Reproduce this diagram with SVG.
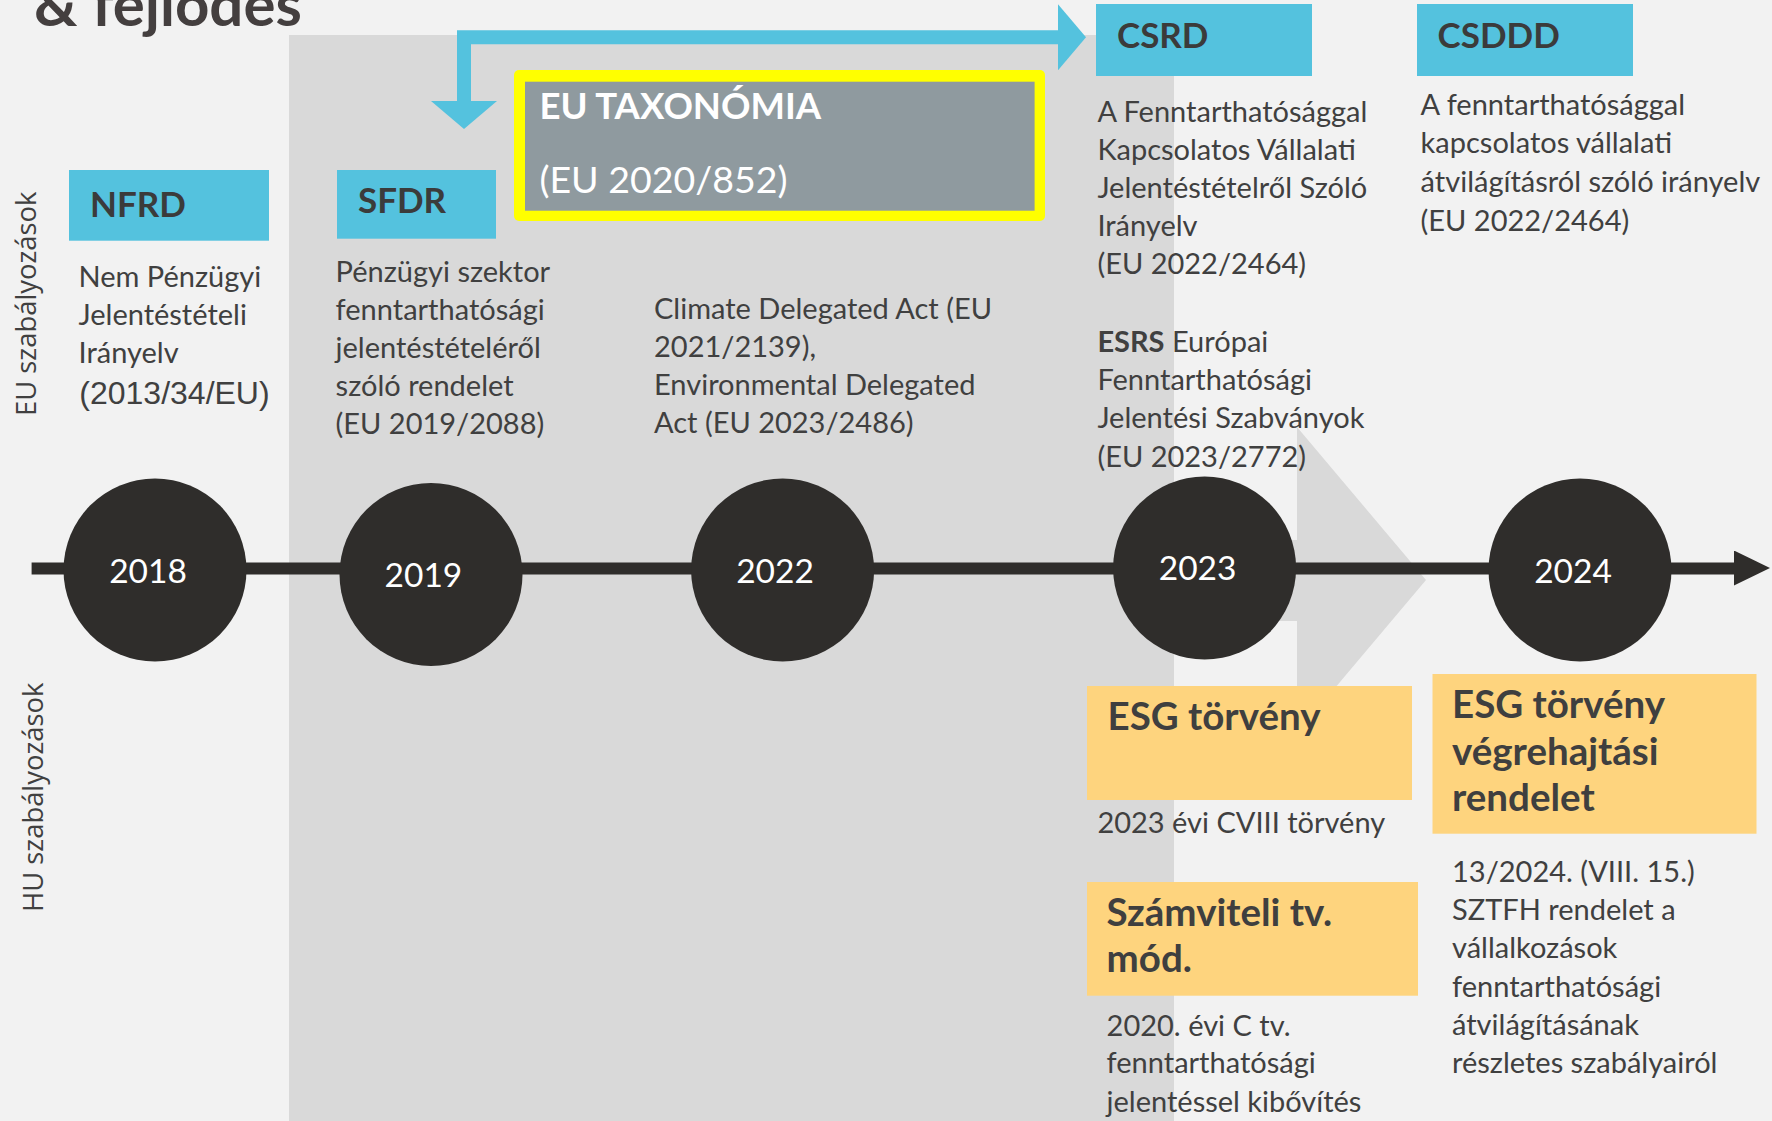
<svg xmlns="http://www.w3.org/2000/svg" width="1772" height="1121" viewBox="0 0 1772 1121">
<defs>
<style>
.t{font-family:Lato,"Liberation Sans",sans-serif;fill:#404040}
.body{font-size:29px}
.bt{font-size:35px;font-weight:bold;fill:#3b3b3b}
.yt{font-size:38.5px;font-weight:bold;fill:#3f3f3f}
.yr{font-size:33.5px;fill:#ffffff;text-anchor:middle}
.side{font-family:"Open Sans","Noto Sans",sans-serif;font-size:27.4px;fill:#404040}
.blue{fill:#54c2de}
.yel{fill:#fed47e}
.circ{fill:#2f2d2b}
</style>
<marker id="bh" markerUnits="userSpaceOnUse" markerWidth="30" markerHeight="66" refX="0" refY="33" orient="auto-start-reverse" viewBox="0 0 30 66">
<path d="M0,0 L28,33 L0,66 Z" fill="#54c2de"/>
</marker>
<marker id="th" markerUnits="userSpaceOnUse" markerWidth="38" markerHeight="36" refX="0" refY="18" orient="auto" viewBox="0 0 38 36">
<path d="M0,0 L36,17.5 L0,35 Z" fill="#2f2d2b"/>
</marker>
</defs>
<rect x="0" y="0" width="1772" height="1121" fill="#f2f2f2"/>
<text x="34" y="26" font-family="Lato,'Liberation Sans',sans-serif" font-size="60" font-weight="bold" fill="#443f3f">&amp; fejlődés</text>
<rect x="289" y="35" width="885" height="1086" fill="#d9d9d9"/>
<polygon points="1174,540 1297,540 1297,427 1426,580 1297,733 1297,621 1174,621" fill="#d9d9d9"/>
<text class="side" transform="translate(36.4,416) rotate(-90)">EU szabályozások</text>
<text class="side" transform="translate(42.9,912) rotate(-90)">HU szabályozások</text>
<g id="connectors">
<line x1="31.6" y1="568.5" x2="1734" y2="568.5" stroke="#2f2d2b" stroke-width="12" marker-end="url(#th)"/>
<path d="M464,101 V37.3 H1058" fill="none" stroke="#54c2de" stroke-width="14" marker-start="url(#bh)" marker-end="url(#bh)"/>
</g>
<g id="y2018"><circle class="circ" cx="155" cy="570" r="91.5"/><text class="t yr" x="148" y="582.7">2018</text></g>
<g id="y2019"><circle class="circ" cx="431" cy="574.5" r="91.5"/><text class="t yr" x="423.4" y="586.7">2019</text></g>
<g id="y2022"><circle class="circ" cx="782.6" cy="570" r="91.5"/><text class="t yr" x="775" y="583">2022</text></g>
<g id="y2023"><circle class="circ" cx="1204.6" cy="568" r="91.5"/><text class="t yr" x="1197.6" y="580">2023</text></g>
<g id="y2024"><circle class="circ" cx="1580" cy="570" r="91.5"/><text class="t yr" x="1573" y="583">2024</text></g>
<g id="nfrd">
<rect class="blue" x="69" y="170" width="200" height="70.7"/>
<text class="t bt" x="90" y="216.7">NFRD</text>
<text class="t body" x="78.5" y="287">Nem Pénzügyi</text>
<text class="t body" x="78.5" y="325">Jelentéstételi</text>
<text class="t body" x="78.5" y="363">Irányelv</text>
<text x="79.3" y="404.3" font-family="'Liberation Sans',Arial,sans-serif" font-size="32" fill="#404040">(2013/34/EU)</text>
</g>
<g id="sfdr">
<rect class="blue" x="337" y="170" width="159" height="68.7"/>
<text class="t bt" x="358" y="213">SFDR</text>
<text class="t body" x="335.6" y="282">Pénzügyi szektor</text>
<text class="t body" x="335.6" y="320">fenntarthatósági</text>
<text class="t body" x="335.6" y="358">jelentéstételéről</text>
<text class="t body" x="335.6" y="396">szóló rendelet</text>
<text class="t body" x="335.6" y="434">(EU 2019/2088)</text>
</g>
<g id="taxonomia">
<rect x="514" y="70" width="531" height="151" rx="5" fill="#ffff00"/>
<rect x="525" y="81.7" width="509.6" height="129" fill="#8f9a9f"/>
<text x="539.4" y="119" font-family="Lato,'Liberation Sans',sans-serif" font-size="36.5" font-weight="bold" fill="#ffffff">EU TAXONÓMIA</text>
<text x="539.4" y="192.7" font-family="Lato,'Liberation Sans',sans-serif" font-size="37.5" fill="#ffffff">(EU 2020/852)</text>
</g>
<g id="delegated">
<text class="t body" x="654" y="319.3">Climate Delegated Act (EU</text>
<text class="t body" x="654" y="356.7">2021/2139),</text>
<text class="t body" x="654" y="395">Environmental Delegated</text>
<text class="t body" x="654" y="432.7">Act (EU 2023/2486)</text>
</g>
<g id="csrd">
<rect class="blue" x="1096" y="4" width="216" height="72"/>
<text class="t bt" x="1117" y="48">CSRD</text>
<text class="t body" x="1097.4" y="121.5">A Fenntarthatósággal</text>
<text class="t body" x="1097.4" y="159.5">Kapcsolatos Vállalati</text>
<text class="t body" x="1097.4" y="197.5">Jelentéstételről Szóló</text>
<text class="t body" x="1097.4" y="235.5">Irányelv</text>
<text class="t body" x="1097.4" y="273.5">(EU 2022/2464)</text>
</g>
<g id="esrs">
<text class="t body" x="1097.4" y="351.7"><tspan font-weight="bold">ESRS</tspan> Európai</text>
<text class="t body" x="1097.4" y="390">Fenntarthatósági</text>
<text class="t body" x="1097.4" y="428.3">Jelentési Szabványok</text>
<text class="t body" x="1097.4" y="466.7">(EU 2023/2772)</text>
</g>
<g id="csddd">
<rect class="blue" x="1417" y="4" width="216" height="72"/>
<text class="t bt" x="1437.6" y="48">CSDDD</text>
<text class="t body" x="1420.6" y="115">A fenntarthatósággal</text>
<text class="t body" x="1420.6" y="153.3">kapcsolatos vállalati</text>
<text class="t body" x="1420.6" y="192">átvilágításról szóló irányelv</text>
<text class="t body" x="1420.6" y="230.7">(EU 2022/2464)</text>
</g>
<g id="esg">
<rect class="yel" x="1087" y="686" width="325" height="114"/>
<text class="t yt" x="1107.5" y="730">ESG törvény</text>
<text class="t body" x="1097.4" y="832.7">2023 évi CVIII törvény</text>
</g>
<g id="szamviteli">
<rect class="yel" x="1087" y="882" width="331" height="113.7"/>
<text class="t yt" x="1106.6" y="926">Számviteli tv.</text>
<text class="t yt" x="1106.6" y="971.7">mód.</text>
<text class="t body" x="1106.6" y="1036">2020. évi C tv.</text>
<text class="t body" x="1106.6" y="1073">fenntarthatósági</text>
<text class="t body" x="1106.6" y="1111.7">jelentéssel kibővítés</text>
</g>
<g id="esgvegrehajtasi">
<rect class="yel" x="1432.5" y="674" width="324" height="159.7"/>
<text class="t yt" x="1452" y="718.3">ESG törvény</text>
<text class="t yt" x="1452" y="765">végrehajtási</text>
<text class="t yt" x="1452" y="811">rendelet</text>
<text class="t body" x="1452" y="881.7">13/2024. (VIII. 15.)</text>
<text class="t body" x="1452" y="920">SZTFH rendelet a</text>
<text class="t body" x="1452" y="958">vállalkozások</text>
<text class="t body" x="1452" y="996.7">fenntarthatósági</text>
<text class="t body" x="1452" y="1035">átvilágításának</text>
<text class="t body" x="1452" y="1072.7">részletes szabályairól</text>
</g>
</svg>
